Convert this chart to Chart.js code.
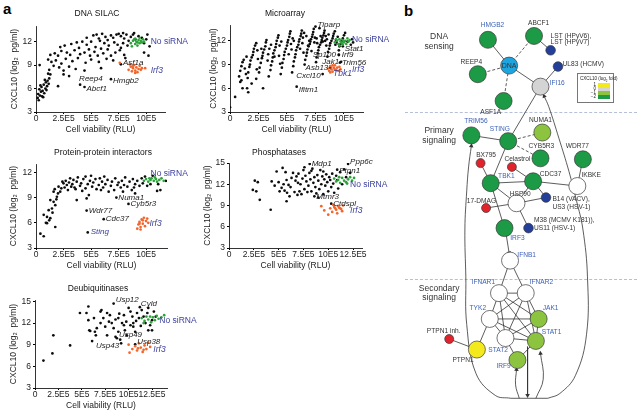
<!DOCTYPE html>
<html>
<head>
<meta charset="utf-8">
<script src="https://cdn.jsdelivr.net/npm/chart.js@4.4.1/dist/chart.umd.min.js"></script>
<style>
  body { margin: 0; background: #fff; font-family: "Liberation Sans", Arial, sans-serif; }
  #wrap { position: relative; width: 640px; height: 418px; overflow: hidden; }
  canvas, .t, .sep, #legend { position: absolute; }
  .t { white-space: nowrap; color: #111; }
  .letter { font-size: 15px; font-weight: bold; color: #000; }
  .sep { height: 0; border-top: 1px dashed #b5bfd8; }
  #legend { left: 577px; top: 73px; width: 35px; height: 28px; border: 0.8px solid #777; background: #fff; }
  #legend div { position: absolute; }
  .sw { left: 20px; width: 12px; height: 4px; }
  .sl { right: 17px; font-size: 4.5px; line-height: 4px; color: #222; }
</style>
</head>
<body>
<div id="wrap">
  <div class="t letter" style="left:3px;top:0px;">a</div>
  <div class="t letter" style="left:404px;top:2px;">b</div>

  <canvas id="c1"></canvas>
  <canvas id="c2"></canvas>
  <canvas id="c3"></canvas>
  <canvas id="c4"></canvas>
  <canvas id="c5"></canvas>

  <div class="sep" style="left:405px;top:112px;width:232px;"></div>
  <div class="sep" style="left:405px;top:279px;width:232px;"></div>

  <canvas id="net"></canvas>

  <div id="legend">
    <div style="left:2px;top:2px;font-size:4.5px;white-space:nowrap;color:#222;">CXCL10 (log<sub style="font-size:3px">2</sub> fold)</div>
    <div class="sw" style="top:9px;background:#f3e91d;"></div>
    <div class="sw" style="top:13px;background:#d4d4d4;"></div>
    <div class="sw" style="top:17px;background:#8cc43f;"></div>
    <div class="sw" style="top:21px;background:#1d9a46;"></div>
    <div class="sl" style="top:9px;">1</div>
    <div class="sl" style="top:13px;">0</div>
    <div class="sl" style="top:17px;">−1</div>
    <div class="sl" style="top:21px;">−2</div>
  </div>
</div>

<script>
// ---- data: x in units of 1E5 RLU, y in log2 pg/ml ----
const silacBlack = [[0.15,4.8],[0.2,5.3],[0.25,4.5],[0.3,5.9],[0.35,5.1],[0.4,6.4],[0.45,5.6],[0.5,6.2],[0.55,5.0],[0.6,5.7],[0.65,4.9],[0.7,6.5],[0.75,5.4],[0.8,7.1],[0.85,6.0],[0.9,6.8],[0.95,5.8],[1.0,6.3],[1.05,7.0],[1.1,7.9],[1.15,6.6],[1.2,7.3],[1.3,7.8],[0.33,9.0],
  [1.2,8.4],[1.6,8.9],[2.1,8.7],[2.5,8.3],[3.0,8.8],[3.6,8.5],[4.4,8.3],[5.9,8.6],[2.0,6.3],[2.5,7.8],[3.0,7.6],
  [1.1,9.7],[1.4,9.4],[1.8,9.6],[2.3,9.2],[2.7,9.8],[3.3,9.5],[3.8,9.9],[4.5,9.3],[5.0,9.7],[5.7,9.4],[6.4,9.8],[7.0,9.6],[8.1,9.9],
  [1.3,10.3],[1.7,10.5],[2.0,10.2],[2.3,10.8],[2.8,10.6],[3.1,10.3],[3.5,10.9],[4.0,10.4],[4.4,10.6],[4.9,10.2],[5.3,10.7],[5.6,10.2],[6.1,10.5],[6.8,10.2],[7.2,10.6],[8.0,10.3],[9.8,10.6],[10.2,10.2],[7.6,10.9],[6.5,11.0],
  [2.2,11.3],[2.6,11.5],[3.2,11.7],[3.7,11.9],[4.2,12.0],[4.6,11.6],[5.0,12.0],[5.4,11.3],[5.8,12.1],[6.2,11.8],[6.6,11.5],[7.1,11.9],[7.4,11.6],[7.9,11.8],[8.3,11.5],[3.9,11.2],[4.8,11.0],[5.9,11.1],[7.7,11.2],
  [5.2,12.8],[5.5,12.9],[6.0,13.0],[6.3,12.6],[6.5,12.2],[7.0,12.5],[7.3,12.9],[7.5,13.0],[7.7,12.7],[8.0,12.4],[8.2,12.9],[8.4,12.1],[8.6,12.6],[8.8,12.9],[9.0,12.3],[9.3,12.7],[9.6,12.5],[10.0,12.3],[9.8,11.8],[10.3,11.4],[6.8,12.8],[5.7,12.4],[4.6,12.5],[8.9,13.1],[7.9,13.1],[10.1,12.9]];
const silacNoSi = [[8.6,11.8],[8.8,12.1],[9.0,11.7],[9.1,12.0],[9.2,11.9],[9.3,12.2],[9.4,11.8],[9.5,12.1],[9.6,11.9],[9.7,12.3],[9.2,11.5],[8.9,12.3],[9.8,12.0],[9.0,12.4],[9.4,12.5],[8.7,11.4]];
const silacIrf3 = [[8.4,8.4],[8.6,8.8],[8.7,8.2],[8.8,8.6],[8.9,9.0],[9.0,8.3],[9.1,8.7],[9.2,8.1],[9.3,8.5],[9.4,8.9],[8.5,9.1],[9.0,8.0],[9.5,8.4],[8.8,8.9],[9.6,8.6],[7.6,9.3],[9.9,8.6]];
const silacGenes = [['Asf1a',7.7,9.1],['Reep4',4.0,6.5],['Abcf1',4.4,6.2],['Hmgb2',6.8,7.2]];
const silacNotes = [['No siRNA',10.4,12.0],['Irf3',10.4,8.3]];

const microBlack = [[0.0,3.6],[0.45,4.9],[0.9,6.8],[1.0,7.0],[1.1,6.0],[1.5,6.0],[1.6,5.5],[1.9,6.6],[2.3,7.2],[2.9,6.0],
  [0.8,7.5],[0.9,8.2],[1.0,8.8],[1.1,9.3],[1.2,9.6],[1.3,8.5],[1.4,7.8],[1.45,10.0],
  [1.55,7.3],[1.6,8.0],[1.7,8.7],[1.75,9.0],[1.8,9.5],[1.9,9.9],[2.0,10.2],[2.05,10.6],[2.1,11.0],[2.2,11.4],[2.3,11.7],[2.35,8.4],[2.4,10.8],[2.45,9.7],
  [2.55,8.0],[2.6,8.6],[2.7,9.2],[2.8,9.8],[2.85,10.1],[2.9,10.5],[3.0,10.9],[3.1,11.3],[3.15,11.8],[3.2,12.1],[3.3,9.5],[3.35,10.3],[3.4,7.5],[3.45,11.0],
  [3.55,8.3],[3.6,8.9],[3.7,9.4],[3.75,9.9],[3.8,10.4],[3.9,10.8],[4.0,11.2],[4.05,11.6],[4.1,12.0],[4.2,12.4],[4.25,12.7],[4.3,10.1],[4.35,11.4],[4.4,9.1],[4.45,7.8],
  [4.55,8.6],[4.6,9.2],[4.7,9.7],[4.75,10.2],[4.8,10.6],[4.9,11.0],[5.0,11.4],[5.05,11.8],[5.1,12.1],[5.2,12.5],[5.25,12.9],[5.3,13.2],[5.35,11.6],[5.4,10.9],[5.45,8.0],[5.5,12.3],
  [5.55,8.8],[5.6,9.4],[5.7,9.9],[5.75,10.3],[5.8,10.8],[5.9,11.2],[6.0,11.5],[6.05,11.9],[6.1,12.2],[6.2,12.6],[6.25,12.9],[6.3,13.3],[6.35,11.7],[6.4,12.4],[6.45,10.5],[6.5,13.0],
  [6.55,9.0],[6.6,9.6],[6.7,10.1],[6.75,10.5],[6.8,10.9],[6.9,11.3],[7.0,11.6],[7.05,11.9],[7.1,12.2],[7.2,12.5],[7.25,12.8],[7.3,13.1],[7.35,13.5],[7.4,11.8],[7.45,12.4],[6.95,12.0],[7.15,10.7],
  [7.55,9.3],[7.6,9.9],[7.7,10.4],[7.75,10.8],[7.8,11.2],[7.9,11.5],[8.0,11.8],[8.05,12.1],[8.1,12.4],[8.2,12.7],[8.25,13.0],[8.3,13.3],[8.35,12.0],[8.4,12.6],[8.45,11.4],[7.85,13.6],
  [8.55,10.0],[8.6,10.6],[8.7,11.0],[8.75,11.4],[8.8,11.7],[8.9,12.0],[9.0,12.3],[9.05,12.6],[9.1,12.9],[9.2,13.2],[9.3,12.1],[9.35,11.8],[9.45,12.5],
  [9.55,10.8],[9.6,11.3],[9.7,11.6],[9.8,12.0],[9.9,12.3],[10.0,12.7],[10.1,13.0],[10.3,11.9],[10.6,11.5],[10.7,12.2],[10.8,11.8],
  [5.6,12.0],[6.7,12.6],[7.6,12.3],[8.5,12.2],[8.15,11.9],[7.95,12.6],[6.15,11.0],[5.15,10.3],[8.65,12.8],[9.25,11.5],[7.65,11.7],[6.85,11.4],[4.5,11.9],[3.6,11.5],[2.75,11.0],[3.9,10.0]];
const microNoSi = [[9.2,11.8],[9.4,12.0],[9.5,11.6],[9.6,12.2],[9.7,11.9],[9.8,11.7],[9.9,12.1],[10.0,11.8],[10.1,12.0],[10.2,11.6],[10.3,12.3],[9.6,11.4],[9.3,12.2],[10.4,11.9],[9.9,11.5],[10.5,12.1]];
const microIrf3 = [[8.6,8.5],[8.7,8.2],[8.8,8.8],[8.9,8.4],[9.0,8.1],[9.1,8.6],[9.2,8.9],[9.3,8.3],[9.4,8.6],[9.5,8.2],[9.6,8.7],[8.8,8.0],[9.0,8.9],[9.7,8.4],[9.2,8.4]];
const microGenes = [['Tiparp',7.5,13.8],['Stat1',9.9,11.3],['Irf9',9.55,10.2],['Sp100',9.55,10.25],['Jak1',9.75,9.35],['Trim56',9.65,9.25],['Asb13',8.8,8.6],['Cxcl10',8.13,7.8],['Ifitm1',5.85,6.2]];
const microNotes = [['No siRNA',10.7,12.1],['Irf3',10.7,8.3],['Tbk1',9.04,7.8]];

const ppiBlack = [[0.4,4.7],[0.7,4.4],[0.7,6.95],[1.0,6.7],[1.3,6.55],[1.0,5.96],[1.75,5.5],[1.15,7.5],[1.45,7.7],[1.3,8.7],[1.6,8.5],[1.75,8.1],[1.9,9.1],[1.6,9.7],[2.05,10.3],[2.2,9.7],[2.5,10.7],[1.2,6.3],[0.9,6.0],[1.5,7.2],[1.85,8.8],[2.0,9.5],[2.3,10.1],[1.7,10.0],
  [2.6,10.2],[2.7,11.0],[2.8,10.5],[2.9,9.9],[3.0,10.8],[3.1,11.3],[3.2,10.3],[3.3,10.6],[3.4,11.1],[3.6,10.0],[3.7,10.9],[3.8,11.4],[3.7,8.7],[4.0,10.4],[4.1,10.7],[4.3,11.2],[4.5,10.1],[4.6,8.9],[4.7,10.6],[4.8,9.3],[4.5,11.5],[4.9,11.0],
  [5.1,10.3],[5.2,10.8],[5.4,11.2],[5.5,10.0],[5.7,10.5],[5.8,11.3],[6.0,10.9],[6.1,10.2],[6.3,10.6],[6.5,11.1],[6.6,9.7],[6.8,10.4],[6.9,10.9],[7.1,9.9],[7.2,11.3],[7.4,10.5],[7.5,10.8],[7.7,10.2],[7.8,11.0],
  [8.0,10.5],[8.1,11.4],[8.3,10.3],[8.5,10.9],[8.7,9.9],[8.8,11.2],[9.0,9.5],[9.0,10.6],[9.2,11.0],[9.4,10.4],[9.6,11.3],[9.7,10.7],[9.9,11.5],[10.1,10.4],[10.4,10.6],[10.6,11.6],[11.0,9.8],[11.3,9.9],[11.1,10.6],[11.8,11.0],
  [5.0,11.6],[3.5,10.2],[2.4,10.9],[6.2,11.5],[8.9,10.2],[7.9,9.7],[5.9,9.9],[4.2,9.8]];
const ppiNoSi = [[9.8,11.0],[10.0,11.2],[10.2,10.9],[10.4,11.1],[10.5,11.3],[10.7,11.0],[10.9,11.2],[11.0,10.9],[11.2,11.1],[11.4,11.3],[11.6,11.0],[10.3,11.3],[10.8,11.4]];
const ppiIrf3 = [[9.2,5.3],[9.3,5.8],[9.4,6.1],[9.5,5.5],[9.6,6.4],[9.7,5.9],[9.8,6.6],[9.9,5.6],[10.0,6.2],[10.1,6.5],[9.5,5.2],[9.4,5.9],[10.2,6.0],[9.7,6.3]];
const ppiGenes = [['Numa1',7.3,9.0],['Cyb5r3',8.4,8.25],['Wdr77',4.6,7.46],['Cdc37',6.15,6.43],['Sting',4.7,4.86]];
const ppiNotes = [['No siRNA',10.4,11.8],['Irf3',10.3,5.85]];

const phosBlack = [[2.6,12.5],[2.4,11.2],[2.9,12.3],[2.75,11.0],[3.1,9.8],[4.2,8.4],[4.3,12.4],[4.8,13.8],[5.3,11.5],[5.1,11.0],[5.4,14.3],[5.7,13.7],[5.8,12.6],[5.85,10.8],[5.8,9.6],[6.1,10.3],[6.45,13.6],[6.8,13.1],[6.95,12.2],[7.1,11.0],[7.5,14.0],
  [5.0,12.3],[5.5,12.0],[6.2,11.6],[6.3,12.9],[6.6,10.9],[6.7,12.5],[7.0,13.5],[7.2,12.0],[7.3,10.6],[7.4,12.8],[7.6,11.3],[7.7,13.2],[7.8,12.4],[7.9,10.9],[8.0,11.8],[8.1,13.6],[8.2,12.7],[8.3,11.0],[8.4,14.2],[8.5,12.2],[8.6,13.0],[8.7,11.6],[8.8,10.7],[8.9,13.3],
  [9.0,12.5],[9.1,11.3],[9.2,14.0],[9.3,12.0],[9.4,13.1],[9.5,10.6],[9.6,12.7],[9.7,11.8],[9.8,13.4],[9.9,12.3],[10.0,11.0],[10.1,13.0],[10.2,12.6],[10.3,11.6],[10.4,13.5],[10.5,12.1],[10.6,10.8],[10.8,13.2],[11.0,11.4],[11.2,13.7],[11.4,12.0],[11.6,14.1],[11.8,13.0],
  [9.0,10.1],[7.6,14.4],[6.0,11.9],[6.9,10.5],[8.3,13.9],[9.5,13.8],[4.6,11.8],[5.6,11.1],[10.9,12.6],[12.2,13.6]];
const phosNoSi = [[10.6,12.8],[10.8,12.4],[11.0,12.6],[11.2,12.2],[11.4,12.9],[11.6,12.5],[11.8,12.3],[12.0,12.7],[12.2,13.0],[12.4,12.5],[12.6,12.9],[11.1,13.0],[11.9,12.1]];
const phosIrf3 = [[9.3,8.9],[9.6,8.3],[10.0,7.7],[10.2,8.6],[10.4,8.1],[10.6,8.8],[10.8,8.4],[11.0,8.9],[11.2,8.6],[11.4,8.2],[11.5,9.0],[10.9,7.9],[11.1,8.7],[10.5,9.1],[11.3,8.5],[10.7,8.6]];
const phosGenes = [['Mdp1',8.13,14.86],['Ppp6c',12.0,14.86],['Ptpn1',10.9,14.06],['Mtmr3',8.6,10.3],['Ctdspl',10.3,9.26]];
const phosNotes = [['No siRNA',12.2,12.0],['Irf3',12.2,8.23]];

const dubBlack = [[0.9,6.8],[1.86,7.8],[1.96,10.3],[3.75,8.9],[4.8,13.4],[5.5,13.4],[5.7,14.3],[5.7,12.4],[5.8,11.0],[6.1,9.5],[6.4,10.8],[6.6,11.3],[7.0,12.0],[7.0,13.6],[7.1,13.8],[7.5,11.5],[7.7,10.3],[8.0,13.1],[8.2,12.0],[8.4,11.3],
  [8.6,12.5],[8.9,12.7],[8.9,10.8],[9.3,12.0],[9.5,13.1],[9.6,11.0],[9.8,10.3],[10.0,14.1],[10.2,13.6],[10.4,12.9],[10.5,12.0],[10.5,11.5],[10.7,10.8],[10.9,13.4],[11.1,12.7],[11.4,13.8],[11.6,12.9],[11.8,12.0],[12.0,13.4],[12.1,14.1],
  [12.3,11.7],[12.5,11.0],[12.5,12.4],[12.7,13.6],[12.1,11.0],[7.7,13.4],[7.3,12.7],[6.3,12.7],[6.5,10.3],[8.6,10.1],[9.1,9.7],[9.5,11.7],[9.75,12.2],[10.2,11.7],[5.9,10.9],[7.9,12.2],[9.0,13.3],[10.8,12.3],[11.3,11.6],[12.9,12.9]];
const dubNoSi = [[11.4,12.7],[11.7,12.3],[11.9,12.9],[12.1,12.5],[12.4,12.1],[12.6,12.8],[12.8,12.4],[13.0,13.0],[13.2,12.6],[13.5,12.8],[13.8,13.1],[12.3,12.9],[11.6,12.0]];
const dubIrf3 = [[10.0,9.0],[10.1,7.9],[10.4,8.4],[10.7,8.8],[10.9,8.2],[11.1,9.2],[11.3,8.6],[11.5,8.0],[11.7,8.9],[11.9,8.4],[12.1,9.3],[12.3,8.7],[11.0,8.5],[11.6,8.3]];
const dubGenes = [['Usp12',8.4,14.7],['Cyld',11.2,14.2],['Usp49',8.75,9.9],['Usp43',9.2,9.2],['Usp38',10.7,9.05]];
const dubNotes = [['No siRNA',13.28,12.34],['Irf3',12.64,8.3]];

// ---- network (panel b): node layout units, fold category ----
const nodeNames = ['HMGB2','ABCF1','LST','DNA','REEP4','UL83','IFI16','ASF1A','TRIM56','STING','NUMA1','CYB5R3','WDR77','BX795','Celastrol','TBK1','CDC37','IKBKE','HSP90','17-DMAG','B14','M38','IRF3','IFNB1','IFNAR1','IFNAR2','TYK2','JAK1','STAT2','STAT1','IRF9','PTPN1','PTPN1inh'];
const nodeX = [80,130,148,103,69,156,137,97,62,102,139,137,183,72,106,83,129,177,111,78,143,124,98,104,92,121,82,135,99,132,112,68,38];
const nodeY = [32,28,43,59,68,60,81,96,132,138,129,156,157,161,165,182,180,185,203,208,197,229,229,263,297,297,324,324,344,347,367,356,345];
const nodeKind = ['g','g','n','d','g','n','o','g','g','g','lg','g','g','r','r','g','g','w','w','r','n','n','g','w','w','w','w','lg','w','lg','lg','y','r'];
const solidEdges = [['HMGB2','DNA'],['DNA','IFI16'],['IFI16','UL83'],['ABCF1','LST'],['IFI16','STING'],['TRIM56','STING'],['STING','TBK1'],['TBK1','BX795'],['TBK1','CDC37'],['Celastrol','CDC37'],['CDC37','IKBKE'],['IKBKE','WDR77'],['TBK1','HSP90'],['HSP90','17-DMAG'],['HSP90','CDC37'],['HSP90','B14'],['CDC37','B14'],['HSP90','M38'],['TBK1','IRF3'],
  ['IFNB1','IFNAR1'],['IFNB1','IFNAR2'],['IFNAR1','IFNAR2'],['IFNAR1','TYK2'],['IFNAR2','JAK1'],['IFNAR1','STAT2'],['IFNAR2','STAT2'],['IFNAR1','STAT1'],['IFNAR2','STAT1'],['IFNAR1','JAK1'],['IFNAR2','TYK2'],['TYK2','STAT1'],['TYK2','STAT2'],['TYK2','JAK1'],['JAK1','STAT2'],['JAK1','STAT1'],['STAT2','STAT1'],['STAT1','IRF9'],['STAT2','IRF9'],['TYK2','PTPN1'],['PTPN1','PTPN1inh']];
const dashedEdges = [['ABCF1','DNA'],['REEP4','DNA'],['ASF1A','DNA'],['STING','NUMA1'],['STING','CYB5R3']];
const leftLoop = [[105,407],[88,404],[67,381],[57,330],[56,280],[55,230],[57,190],[59,165],[62,143]];
const rightLoop = [[145,407],[158,402],[175,383],[187,340],[188,280],[183,230],[176,200],[168,170],[157,135],[146,102],[141,91]];
const irf9Arrow = [[114,407],[110,393],[111,377]];
const stat1Arrow = [[132,407],[140,387],[137,360]];
const isgArrow = [[123,353],[123,404]];
const irf3Arrow = [[100,237],[103,255]];
const baseLine = [[105,407],[145,407]];
const nodeLabels = [['HMGB2',85,17,'c',1],['ABCF1',135,15,'c',0],['LST (HPyV6),',148,28,'l',0],['LST (HPyV7)',148,34,'l',0],['DNA',103,59,'c',0],
  ['REEP4',62,55,'c',0],['UL83 (HCMV)',161,57,'l',0],['IFI16',147,77,'l',1],['ASF1A',83,108,'c',0],['TRIM56',67,117,'c',1],['STING',93,125,'c',1],
  ['NUMA1',137,116,'c',0],['CYB5R3',138,143,'c',0],['WDR77',177,143,'c',0],['BX795',78,153,'c',0],['Celastrol',112,157,'c',0],['TBK1',100,175,'c',1],
  ['CDC37',148,173,'c',0],['IKBKE',192,174,'c',0],['HSP90',115,193,'c',0],['17-DMAG',73,201,'c',0],['B14 (VACV),',150,199,'l',0],['US3 (HSV-1)',150,207,'l',0],
  ['M38 (MCMV K181)),',130,221,'l',0],['US11 (HSV-1)',130,229,'l',0],['IRF3',112,240,'c',1],['IFNB1',122,257,'c',1],['IFNAR1',75,286,'c',1],['IFNAR2',138,286,'c',1],
  ['TYK2',69,313,'c',1],['JAK1',148,313,'c',1],['STAT2',91,357,'c',1],['STAT1',149,338,'c',1],['IRF9',97,373,'c',1],['PTPN1',53,367,'c',0],['PTPN1 inh.',32,337,'c',0]];
const sectionLabels = [['DNA',27,29],['sensing',27,39],['Primary',27,127],['signaling',27,137],['Secondary',27,292],['signaling',27,302]];

// ---- styles ----
const FONT = '"Liberation Sans", Arial, sans-serif';
const INK = '#1a1a1a', BLUE = '#3a3f9e', NETBLUE = '#3e63b8';
const GREEN = '#2da23a', ORANGE = '#f2652b';
Chart.defaults.font.family = FONT;
Chart.defaults.color = '#222';

// chart-area box in page pixels, title centre, y-title gap
const FRAMES = {
  c1: { l: 36, r: 165, t: 26, b: 112, xMax: 11.7, yMax: 14, gap: 21, title: 'DNA SILAC', tx: 97, ty: 14 },
  c2: { l: 230, r: 363, t: 25, b: 112, xMax: 11.67, yMax: 14, gap: 16, title: 'Microarray', tx: 285, ty: 14 },
  c3: { l: 36, r: 167, t: 164, b: 248, xMax: 11.9, yMax: 13, gap: 22, title: 'Protein-protein interactors', tx: 103, ty: 153 },
  c4: { l: 229, r: 362, t: 163, b: 248, xMax: 13.4, yMax: 15, gap: 21, title: 'Phosphatases', tx: 279, ty: 153 },
  c5: { l: 35, r: 167, t: 300, b: 388, xMax: 14.1, yMax: 15.2, gap: 21, title: 'Deubiquitinases', tx: 98, ty: 289 }
};
// label nudges: [dx, dy, align, blue]
const NUDGE = {
  Asf1a: [2, -2], Reep4: [-1, -6], Abcf1: [2, 2], Hmgb2: [2, 1.5],
  Tiparp: [2, -2], Stat1: [2, 2], Irf9: [3, 0], Sp100: [-3, 0, 'right'], Jak1: [-2, 0, 'right'], Trim56: [2, 0],
  Asb13: [-2, 0, 'right'], Cxcl10: [-2, 2, 'right'], Ifitm1: [2, 3],
  Numa1: [2, 0], Cyb5r3: [2, 0], Wdr77: [2, 0], Cdc37: [2, 0], Sting: [3, -1, 'left', true],
  Mdp1: [2, 0], Ppp6c: [2, -2], Ptpn1: [2, 1], Mtmr3: [2, 0], Ctdspl: [2, 0],
  Usp12: [2, -4], Cyld: [1, -3], Usp49: [2, -3], Usp43: [-2, 3, 'right'], Usp38: [2, -3]
};

// draws text items; data coords unless item.abs (canvas pixels)
function textLayer(items) {
  return {
    id: 'textLayer',
    afterDatasetsDraw(chart) {
      const { ctx, scales: { x, y } } = chart;
      ctx.save();
      items.forEach(it => {
        ctx.font = (it.italic ? 'italic ' : '') + it.size + 'px ' + FONT;
        ctx.fillStyle = it.color;
        ctx.textAlign = it.align;
        ctx.textBaseline = 'middle';
        const px = it.abs ? it.x : x.getPixelForValue(it.x);
        const py = it.abs ? it.y : y.getPixelForValue(it.y);
        ctx.fillText(it.t, px + it.dx, py + it.dy);
      });
      ctx.restore();
    }
  };
}

const pts = a => a.map(([x, y]) => ({ x, y }));

function scatterPanel(id, black, noSi, irf3, genes, notes) {
  const fr = FRAMES[id];
  const padL = 36, padT = 20, padR = 60, padB = 26;
  const cv = document.getElementById(id);
  const w = fr.r - fr.l + padL + padR, h = fr.b - fr.t + padT + padB;
  const ox = fr.l - padL, oy = fr.t - padT;
  cv.width = w; cv.height = h;
  cv.style.width = w + 'px'; cv.style.height = h + 'px';
  cv.style.left = ox + 'px'; cv.style.top = oy + 'px';

  const items = [{ t: fr.title, x: fr.tx - ox, y: fr.ty - oy, dx: 0, dy: 0, abs: true, align: 'center', color: '#111', italic: false, size: 8.5 }];
  genes.forEach(([t, x, y]) => {
    const n = NUDGE[t] || [2, 0];
    items.push({ t, x, y, dx: n[0], dy: n[1], align: n[2] || 'left', color: n[3] ? BLUE : INK, italic: true, size: 8 });
  });
  notes.forEach(([t, x, y]) => {
    items.push({ t, x, y, dx: 0, dy: 0, align: 'left', color: BLUE, italic: t !== 'No siRNA', size: 8.5 });
  });

  new Chart(cv, {
    type: 'scatter',
    data: {
      datasets: [
        { data: pts(noSi), backgroundColor: GREEN, pointRadius: 1.35, borderWidth: 0, order: 1 },
        { data: pts(irf3), backgroundColor: ORANGE, pointRadius: 1.35, borderWidth: 0, order: 2 },
        { data: pts(black.concat(genes.map(g => [g[1], g[2]]))), backgroundColor: '#0c0c0c', pointRadius: 1.35, borderWidth: 0, order: 3 }
      ]
    },
    options: {
      responsive: false,
      animation: false,
      events: [],
      layout: { padding: { left: 0, top: padT, right: padR, bottom: 0 } },
      plugins: { legend: { display: false }, tooltip: { enabled: false } },
      scales: {
        x: {
          type: 'linear', min: 0, max: fr.xMax,
          afterFit: s => { s.height = padB; },
          border: { display: true, color: '#000', width: 0.8 },
          grid: { display: true, drawOnChartArea: false, drawTicks: true, tickLength: 2, color: '#000' },
          ticks: { stepSize: 2.5, includeBounds: false, padding: 0, autoSkip: false, maxRotation: 0, font: { size: 8.5 }, color: '#222',
                   callback: v => v === 0 ? '0' : v + 'E5' },
          title: { display: true, text: 'Cell viability (RLU)', font: { size: 8.5 }, color: '#222', padding: { top: 0, bottom: 3 } }
        },
        y: {
          type: 'linear', min: 3, max: fr.yMax,
          afterFit: s => { s.width = padL; },
          border: { display: true, color: '#000', width: 0.8 },
          grid: { display: true, drawOnChartArea: false, drawTicks: true, tickLength: 2, color: '#000' },
          ticks: { stepSize: 3, includeBounds: false, padding: 2, font: { size: 8.5 }, color: '#222' },
          title: { display: true, text: 'CXCL10 (log₂  pg/ml)', font: { size: 8.5 }, color: '#222',
                   padding: { top: padL - fr.gap - 5.1, bottom: 0 } }
        }
      }
    },
    plugins: [textLayer(items)]
  });
}

scatterPanel('c1', silacBlack, silacNoSi, silacIrf3, silacGenes, silacNotes);
scatterPanel('c2', microBlack, microNoSi, microIrf3, microGenes, microNotes);
scatterPanel('c3', ppiBlack, ppiNoSi, ppiIrf3, ppiGenes, ppiNotes);
scatterPanel('c4', phosBlack, phosNoSi, phosIrf3, phosGenes, phosNotes);
scatterPanel('c5', dubBlack, dubNoSi, dubIrf3, dubGenes, dubNotes);

// ---- network chart ----
const KIND = {
  g: ['#1d9a46', 8.5], lg: ['#8cc43f', 8.5], y: ['#f3e91d', 8.5], o: ['#d4d4d4', 8.5],
  w: ['#ffffff', 8.5], d: ['#1ea5df', 8.5], r: ['#e1232b', 4.5], n: ['#233f9a', 4.8]
};
const EDGE = '#333';
const pos = {};
nodeNames.forEach((n, i) => { pos[n] = { x: nodeX[i], y: nodeY[i] }; });

function path(points, opts) {
  const data = pts(points);
  const last = points.length - 1;
  let rot = 0;
  if (opts.arrow) {
    const [x1, y1] = points[last - 1], [x2, y2] = points[last];
    rot = Math.atan2(x2 - x1, -(y2 - y1)) * 180 / Math.PI;
  }
  return {
    data, showLine: true, tension: opts.tension || 0,
    borderColor: EDGE, borderWidth: 0.8, borderDash: opts.dash ? [3, 2] : [],
    pointRadius: points.map((p, i) => (opts.arrow && i === last) ? 2.6 : 0),
    pointStyle: 'triangle', pointRotation: rot,
    pointBackgroundColor: EDGE, pointBorderColor: EDGE, pointBorderWidth: 0,
    order: 5
  };
}

const netSets = [{
  data: nodeNames.map(n => pos[n]),
  pointRadius: nodeKind.map(k => KIND[k][1]),
  pointBackgroundColor: nodeKind.map(k => KIND[k][0]),
  pointBorderColor: '#3a3a3a', pointBorderWidth: 0.7,
  showLine: false, order: 0
}];
solidEdges.forEach(([a, b]) => netSets.push(path([[pos[a].x, pos[a].y], [pos[b].x, pos[b].y]], {})));
dashedEdges.forEach(([a, b]) => netSets.push(path([[pos[a].x, pos[a].y], [pos[b].x, pos[b].y]], { dash: true })));
netSets.push(path(leftLoop, { tension: 0.4, arrow: true }));
netSets.push(path(rightLoop, { tension: 0.4, arrow: true }));
netSets.push(path(irf9Arrow, { tension: 0.4, arrow: true }));
netSets.push(path(stat1Arrow, { tension: 0.4, arrow: true }));
netSets.push(path(isgArrow, { arrow: true }));
netSets.push(path(irf3Arrow, { arrow: true }));
netSets.push(path(baseLine, {}));

const netItems = nodeLabels.map(([t, x, y, a, blue]) => ({
  t, x, y, dx: 0, dy: 0, align: a === 'l' ? 'left' : 'center',
  color: blue ? NETBLUE : '#333', italic: false, size: t === 'DNA' ? 7 : 6.6
})).concat(sectionLabels.map(([t, x, y]) => ({
  t, x, y, dx: 0, dy: 0, align: 'center', color: '#333', italic: false, size: 8.5
})));

const net = document.getElementById('net');
net.width = 235; net.height = 418;
net.style.width = '235px'; net.style.height = '418px';
net.style.left = '405px'; net.style.top = '0px';
new Chart(net, {
  type: 'scatter',
  data: { datasets: netSets },
  options: {
    responsive: false,
    animation: false,
    events: [],
    layout: { padding: 0 },
    plugins: { legend: { display: false }, tooltip: { enabled: false } },
    scales: {
      x: { type: 'linear', display: false, min: 0, max: 235 },
      y: { type: 'linear', display: false, min: 0, max: 418, reverse: true }
    }
  },
  plugins: [textLayer(netItems)]
});
</script>
</body>
</html>
